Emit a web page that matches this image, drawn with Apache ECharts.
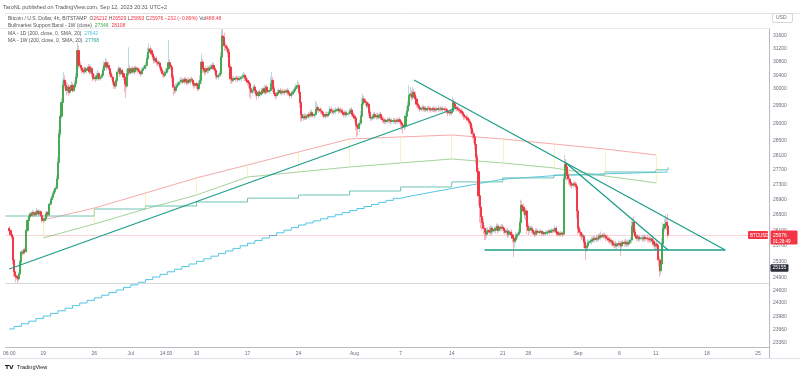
<!DOCTYPE html>
<html><head><meta charset="utf-8">
<script src="https://cdn.jsdelivr.net/npm/echarts@6/dist/echarts.min.js"></script>
<style>html,body{margin:0;padding:0;background:#fff}#c{width:800px;height:375px}</style>
</head><body><div id="c"></div>
<script>
// ---------- DATA ----------
const categoryCount = 629;          // 4h slots, Jun 13 20:00 -> Sep 26 12:00
const firstCandleCat = 3;           // first candle: Jun 14 08:00
const firstOpen = 26150;
const closes = [
26090,25990,25930,25350,
25050,24950,24920,24880,25000,25300,
25550,25520,25600,25560,26100,26350,
26450,26520,26480,26560,26520,26500,
26560,26600,26520,26580,26480,26360,
26350,26400,26520,26560,26500,26780,
26900,26960,27050,27120,27200,27450,
27900,28700,29200,29600,30100,30250,
30100,29950,30050,29900,30000,30100,
29950,30050,30150,30350,31150,30700,
30700,30620,30550,30500,30600,30550,
30550,30650,30500,30600,30450,30300,
30350,30300,30400,30450,30300,30350,
30400,30550,30700,30780,30650,30700,
30600,30450,30350,30200,30100,30080,
30250,30500,30600,30450,30550,30450,
30350,30150,30080,30450,30600,30480,
30550,30600,30500,30620,30580,30600,
30550,30500,30450,30550,30600,30620,
30700,30900,31100,31200,31150,31050,
30950,30850,30900,30800,30750,30770,
30650,30550,30450,30400,30480,30500,
30600,30780,30700,30650,30350,30050,
29950,30050,30100,30150,30200,30250,
30250,30200,30280,30220,30180,30250,
30200,30280,30250,30150,30100,30150,
30100,30000,30150,30250,30800,30600,
30550,30500,30600,30550,30620,30600,
30650,30700,30600,30550,30400,30350,
30400,30450,30950,31600,31550,31300,
31250,31200,31100,30650,30300,30250,
30300,30280,30320,30300,30280,30300,
30300,30350,30380,30400,30320,30250,
30200,30150,30000,29900,29950,30050,
29950,29850,29800,29900,29850,29850,
29950,30000,29900,30050,29950,29920,
29950,30150,30250,30000,29850,29800,
29850,29900,29950,29880,29920,29900,
29920,29900,29950,29880,29850,29800,
29850,29900,29950,30000,30050,30100,
29900,29600,29250,29150,29200,29150,
29200,29180,29250,29220,29300,29250,
29220,29250,29400,29450,29380,29400,
29350,29300,29250,29200,29250,29220,
29250,29300,29400,29350,29320,29350,
29350,29380,29400,29350,29380,29360,
29300,29250,29300,29250,29280,29280,
29350,29380,29250,29200,29150,28950,
28900,28850,29000,29200,29550,29700,
29650,29600,29500,29550,29300,29150,
29150,29200,29250,29180,29220,29170,
29200,29250,29150,29100,29050,29080,
29050,29080,29100,29070,29050,29060,
29080,29050,29070,29060,29100,29050,
29000,28950,28900,28920,29200,29350,
29500,29800,29850,29750,29900,29820,
29700,29550,29500,29450,29400,29420,
29450,29400,29420,29380,29430,29420,
29400,29380,29420,29400,29380,29400,
29420,29400,29410,29420,29400,29410,
29400,29380,29350,29300,29320,29300,
29350,29600,29550,29450,29420,29400,
29380,29350,29300,29250,29200,29180,
29150,29100,29050,29000,28850,28700,
28600,28400,28050,27650,27000,26700,
26450,26300,26150,26050,26000,26080,
26100,26050,26150,26080,26120,26100,
26150,26200,26100,26180,26150,26180,
26150,26100,26050,26080,26000,26050,
26050,25980,25900,25820,25850,25950,
26000,26050,26300,26750,26700,26600,
26500,26600,26200,26100,26150,26150,
26100,26050,26000,26080,26050,26060,
26050,26070,26020,26040,26010,26030,
26040,26060,26080,26050,26100,26080,
26100,26150,26050,26000,26020,26000,
26030,26000,27450,27850,27780,27550,
27450,27350,27300,27280,27320,27300,
27250,26600,26150,26050,25980,25950,
25950,25800,25650,25700,25780,25800,
25820,25850,25880,25860,25900,25870,
25900,25950,25920,25970,25950,25960,
25950,25900,25880,25850,25820,25830,
25780,25720,25750,25700,25730,25760,
25740,25700,25780,25760,25800,25750,
25780,25750,25800,25850,26200,26300,
26050,25950,25900,25920,25880,25900,
25900,25880,25920,25890,25900,25880,
25870,25850,25880,25820,25750,25700,
25750,25700,25350,25080,25250,25750,
26150,26250,26300,26212,25976
];
const upperWicks = [
60,40,50,30,
50,30,40,40,50,60,
60,50,40,60,80,60,
60,50,40,70,40,50,
50,80,40,50,40,30,
50,40,60,50,40,60,
60,50,60,50,80,100,
150,120,100,120,200,250,
150,100,120,80,100,120,
80,60,100,120,250,150,
200,120,80,100,80,60,
60,100,80,60,80,60,
80,60,80,120,60,80,
80,100,120,150,100,80,
100,80,60,80,60,80,
80,100,80,60,100,60,
80,60,80,150,650,100,
80,60,80,60,80,60,
60,80,60,80,60,80,
100,120,150,180,100,80,
100,80,100,80,60,80,
60,80,60,80,60,100,
150,700,100,80,60,80,
80,100,80,60,80,100,
60,80,60,80,60,80,
80,60,80,60,80,60,
60,80,100,150,250,100,
100,80,100,80,60,80,
80,100,80,60,80,60,
60,80,150,200,250,150,
100,80,100,80,100,80,
60,80,60,80,60,80,
80,60,80,100,60,80,
80,60,80,60,100,80,
80,100,80,60,80,60,
80,60,100,80,60,80,
80,200,250,100,80,60,
60,80,60,80,60,80,
60,80,60,80,60,80,
60,80,60,80,100,150,
100,80,60,80,60,80,
80,60,80,60,100,80,
80,60,250,150,80,60,
60,80,60,80,60,80,
80,60,100,80,60,80,
60,80,60,80,60,80,
80,60,80,60,80,60,
80,60,80,60,80,60,
60,80,100,150,200,150,
100,80,60,80,60,80,
60,80,60,80,60,80,
80,60,80,60,80,60,
60,80,60,80,60,80,
60,80,60,80,60,80,
60,80,60,80,100,150,
150,300,200,100,150,100,
100,80,60,80,60,80,
60,80,60,80,60,80,
60,80,60,80,60,80,
60,80,60,80,60,80,
60,80,60,80,60,80,
80,150,100,80,60,80,
80,60,80,60,80,60,
60,80,60,80,60,80,
100,80,100,80,100,100,
150,120,100,80,100,80,
80,100,80,60,80,60,
60,80,60,80,60,80,
80,60,80,60,80,60,
60,80,60,80,60,100,
60,80,100,150,120,100,
100,80,60,80,60,80,
60,80,60,80,60,80,
40,60,40,60,40,60,
60,40,60,40,60,40,
60,80,60,40,60,40,
60,40,150,250,150,100,
100,80,100,80,60,80,
80,100,80,60,80,60,
80,60,80,60,80,60,
60,80,60,80,60,80,
80,60,80,100,60,80,
80,60,80,60,80,60,
60,80,60,80,60,80,
60,80,60,80,60,80,
60,80,60,80,150,130,
150,80,60,80,60,80,
60,80,60,80,60,80,
60,80,60,80,60,80,
60,80,60,80,100,150,
150,150,200,100,317
];
const lowerWicks = [
40,40,60,100,
120,150,60,120,50,40,
50,60,40,50,40,50,
40,50,60,40,50,40,
40,30,50,40,50,60,
80,40,50,40,60,40,
40,50,40,50,40,50,
60,80,100,80,60,80,
100,150,80,120,80,60,
60,50,60,80,60,100,
60,80,100,60,80,60,
80,60,80,60,100,80,
60,100,60,80,60,60,
60,80,60,80,100,60,
60,80,100,80,100,80,
80,60,80,100,60,80,
100,250,350,80,80,60,
60,80,60,80,60,80,
80,60,80,60,80,60,
60,80,60,80,100,80,
80,100,80,100,80,60,
80,60,100,80,60,80,
60,80,100,80,150,250,
100,80,60,80,60,80,
80,60,80,60,80,60,
60,80,60,80,100,80,
100,80,60,80,100,120,
80,100,80,100,80,60,
60,80,60,80,100,80,
80,60,100,150,100,150,
100,80,150,200,150,100,
80,60,80,60,80,60,
60,80,60,80,100,80,
100,120,250,200,100,80,
100,80,120,80,60,80,
60,80,60,80,100,60,
60,80,60,100,80,120,
80,60,80,60,80,60,
60,80,60,80,60,80,
80,60,80,60,80,60,
80,150,200,100,80,60,
60,80,60,80,60,80,
60,80,60,80,60,80,
80,60,80,60,80,60,
60,80,60,80,60,80,
60,80,60,80,60,80,
60,80,60,80,60,80,
60,80,60,80,100,150,
300,200,100,80,100,80,
80,100,80,60,100,80,
80,60,80,60,80,60,
60,80,60,80,60,80,
80,60,80,60,80,60,
80,60,80,60,80,60,
100,150,200,100,80,60,
80,100,80,100,80,100,
80,100,80,60,80,60,
80,60,80,60,80,60,
60,80,60,80,60,80,
60,80,60,80,60,80,
80,60,80,100,80,60,
80,60,80,60,80,60,
60,80,60,80,100,80,
80,60,80,100,150,150,
150,150,200,200,250,400,
300,200,150,200,150,100,
80,60,80,100,80,60,
80,60,80,60,80,60,
60,80,60,80,100,80,
80,100,120,400,150,80,
80,60,80,60,100,80,
100,150,200,120,80,60,
80,60,80,60,80,60,
60,40,60,40,60,40,
40,60,40,60,40,60,
40,60,80,60,40,60,
60,80,40,100,150,150,
150,100,80,100,80,60,
100,200,150,100,80,100,
100,150,300,100,80,60,
60,80,60,80,60,80,
60,80,60,80,60,80,
60,80,60,80,60,80,
80,60,80,60,80,60,
80,250,80,60,80,60,
80,60,80,60,80,100,
80,60,80,60,80,60,
60,80,60,80,60,80,
80,60,80,100,80,100,
100,80,150,150,100,80,
100,80,100,120,83
];
// Bullmarket Support Band (weekly points)
const bandWeekCats = [31,73,115,157,199,241,283,325,367,409,451,493,535];
const bandEma = [26365,26678,27074,27480,27833,28191,28554,28611,28666,28554,28413,28273,28108];
const bandSma = [25903,26263,26652,27021,27505,27641,27777,27887,27997,27887,27751,27533,27346];
// MA 1W (200) weekly steps
const ma1wCats = [0,73,115,157,199,241,283,325,367,409,451,493,535,545];
const ma1wValues = [26469,26652,26731,26836,26940,27022,27128,27237,27372,27480,27560,27641,27700,27768];
// MA 1D (200) daily values, Jun 14 .. Sep 12
const ma1dValues = [23683,23744,23805,23866,23927,23988,24049,24111,24173,24235,
24297,24359,24421,24484,24547,24610,24673,24736,24799,24863,
24927,24991,25055,25119,25184,25248,25313,25378,25443,25508,
25573,25638,25704,25770,25836,25902,25968,26035,26102,26169,
26236,26289,26342,26396,26449,26503,26557,26611,26665,26718,
26772,26826,26880,26935,26980,27017,27052,27088,27124,27159,
27195,27230,27266,27301,27337,27373,27409,27445,27461,27474,
27488,27501,27514,27528,27541,27555,27562,27568,27574,27580,
27585,27591,27597,27603,27608,27614,27620,27626,27631,27637,27642];
// drawn trend lines [cat, price]
const trendLines = [
  [[3,25124],[371,29438]],
  [[336,30261],[592,25598]],
  [[460,27914],[545,25598]],
  [[394,25598],[592,25598]]
];
const lastPrice = 25976;
const markPrice = 25155;
const grayLevel = 24780;
const yTickValues = [23360,23660,23980,24300,24600,24900,25300,25700,26100,26500,26900,27300,27700,28100,28500,29000,29500,30000,30400,30800,31200,31600];
const xTickLabels = [[3,'06:00'],[31,'19'],[73,'26'],[103,'Jul'],[132,'14:00'],[157,'10'],[199,'17'],[241,'24'],[287,'Aug'],[325,'7'],[367,'14'],[409,'21'],[430,'28'],[471,'Sep'],[505,'6'],[535,'11'],[577,'18'],[619,'25']];
const ohlcHeader = {o:'26212', h:'26529', l:'25893', c:'25976', chg:'−232 (−0.89%)', vol:'488.48'};
const bandHeader = ['27346','28108'];
const ma1dHeader = '27642';
const ma1wHeader = '27768';

// ---------- BUILD ----------
const FONT = 'Liberation Sans, Arial, sans-serif';
const UP = '#43a84a', DOWN = '#f23645';
const cats = []; for (let k = 0; k < categoryCount; k++) cats.push('c' + k);
const labelMap = {}; xTickLabels.forEach(([k, t]) => labelMap[k] = t);

const candles = [], bodies = [];
let prev = firstOpen;
closes.forEach((c, i) => {
  const o = prev, k = i + firstCandleCat;
  candles.push([k, o, c, Math.min(o, c) - lowerWicks[i], Math.max(o, c) + upperWicks[i]]);
  bodies.push([k, o, c, Math.min(o, c), Math.max(o, c)]);
  prev = c;
});
const ma1dData = ma1dValues.map((v, d) => [d === 0 ? firstCandleCat : 1 + 6 * d, v]);
ma1dData.push([firstCandleCat + closes.length - 1, ma1dValues[ma1dValues.length - 1]]);

const chart = echarts.init(document.getElementById('c'), null, {renderer: 'canvas', width: 800, height: 375});
const lineS = (name, data, color, width, step, z) => ({
  type: 'line', name, data, step: step || false, showSymbol: false, symbol: 'none', silent: true,
  lineStyle: {color, width}, z: z || 3, animation: false
});
const series = [
  {type: 'candlestick', data: candles, encode: {x: 0, y: [1, 2, 3, 4]}, barWidth: 1.6, z: 4,
   itemStyle: {color: 'rgba(120,175,195,0.5)', color0: 'rgba(240,110,120,0.5)', borderColor: 'rgba(120,175,195,0.5)', borderColor0: 'rgba(240,110,120,0.5)', borderWidth: 1},
   markLine: {silent: true, symbol: 'none', label: {show: false}, animation: false,
     data: [{yAxis: lastPrice, lineStyle: {color: 'rgba(242,54,69,0.22)', type: 'solid', width: 1}},
            {yAxis: grayLevel, lineStyle: {color: '#d4d6dc', type: 'solid', width: 1}}]}},
  {type: 'candlestick', data: bodies, encode: {x: 0, y: [1, 2, 3, 4]}, barWidth: 1.6, z: 5,
   itemStyle: {color: UP, color0: DOWN, borderColor: UP, borderColor0: DOWN, borderWidth: 0.9}},
  Object.assign(lineS('bandEma', bandWeekCats.map((k, j) => [k, bandEma[j]]), 'rgba(245,140,140,0.75)', 1), {
    markLine: {silent: true, symbol: 'none', label: {show: false}, animation: false,
      lineStyle: {color: 'rgba(250,225,140,0.55)', width: 1, type: 'solid'},
      data: bandWeekCats.map((k, j) => [{coord: [k, bandEma[j]]}, {coord: [k, bandSma[j]]}])}
  }),
  lineS('bandSma', bandWeekCats.map((k, j) => [k, bandSma[j]]), 'rgba(140,200,130,0.8)', 1),
  lineS('ma1d', ma1dData, '#52c5e4', 1, 'end'),
  lineS('ma1w', ma1wCats.map((k, j) => [k, ma1wValues[j]]), '#6cc3b4', 1, 'end')
];
trendLines.forEach((t, j) => series.push(lineS('trend' + j, t, '#1e9e8a', 1.3, false, 6)));

chart.setOption({
  animation: false,
  textStyle: {fontFamily: FONT},
  grid: {left: 0, right: 31, top: 29, bottom: 28, containLabel: false},
  xAxis: {type: 'category', data: cats, boundaryGap: false,
    axisLine: {lineStyle: {color: '#b8bbc4', width: 1}}, axisTick: {show: false}, splitLine: {show: false},
    axisLabel: {interval: (idx) => labelMap[idx] !== undefined, formatter: (v, idx) => labelMap[idx] || '',
      color: '#6b6e78', fontSize: 5, margin: 4, fontFamily: FONT}},
  yAxis: {type: 'log', logBase: 10, position: 'right', min: 23267, max: 31819,
    axisLine: {show: true, lineStyle: {color: '#b8bbc4', width: 1}}, axisTick: {show: false}, splitLine: {show: false},
    axisLabel: {customValues: yTickValues, formatter: v => String(Math.round(v)), color: '#6b6e78', fontSize: 5, margin: 4, fontFamily: FONT}},
  series
});

const py = v => chart.convertToPixel({yAxisIndex: 0}, v);
const yLast = py(lastPrice), yMark = py(markPrice);
const T = (x, y, text, fill, size, z) => ({type: 'text', x, y, z: z || 50,
  style: {text, fill, font: (size || 5) + 'px ' + FONT, verticalAlign: 'middle', align: 'left'}});
const rich = {t: {fill: '#555', fontSize: 5, fontFamily: FONT}, r: {fill: DOWN, fontSize: 5, fontFamily: FONT},
  g: {fill: UP, fontSize: 5, fontFamily: FONT}, c: {fill: '#4cc3e0', fontSize: 5, fontFamily: FONT}, q: {fill: '#26a69a', fontSize: 5, fontFamily: FONT}};
const R = (x, y, text) => ({type: 'text', x, y, z: 50, style: {text, rich, font: '5px ' + FONT, verticalAlign: 'middle', align: 'left'}});
const h = ohlcHeader;
chart.setOption({graphic: [
  T(3, 7, 'TaroNL published on TradingView.com, Sep 12, 2023 20:31 UTC+2', '#555', 5.5),
  {type: 'line', z: 40, shape: {x1: 5, y1: 13.5, x2: 800, y2: 13.5}, style: {stroke: '#e0e3eb', lineWidth: 1}},
  {type: 'line', z: 40, shape: {x1: 0, y1: 28.5, x2: 770, y2: 28.5}, style: {stroke: '#e8eaef', lineWidth: 1}},
  R(8, 19, '{t|Bitcoin / U.S. Dollar, 4h, BITSTAMP  O}{r|' + h.o + '}{t| H}{r|' + h.h + '}{t| L}{r|' + h.l + '}{t| C}{r|' + h.c + '}{r| ' + h.chg + '}{t| Vol}{r|' + h.vol + '}'),
  R(8, 26, '{t|Bullmarket Support Band - 1W (close)  }{g|' + bandHeader[0] + '}{r|  ' + bandHeader[1] + '}'),
  R(8, 33.5, '{t|MA - 1D (200, close, 0, SMA, 20)  }{c|' + ma1dHeader + '}'),
  R(8, 40.5, '{t|MA - 1W (200, close, 0, SMA, 20)  }{q|' + ma1wHeader + '}'),
  {type: 'rect', z: 40, shape: {x: 772.5, y: 13.5, width: 20, height: 9, r: 1.5}, style: {fill: '#fff', stroke: '#d6d8de', lineWidth: 1}},
  T(776, 18, 'USD', '#6b6e78', 5, 41),
  {type: 'line', z: 40, shape: {x1: 769.5, y1: 346, x2: 769.5, y2: 359}, style: {stroke: '#b8bbc4', lineWidth: 1}},
  {type: 'line', z: 40, shape: {x1: 0, y1: 358.5, x2: 800, y2: 358.5}, style: {stroke: '#e0e3eb', lineWidth: 1}},
  {type: 'rect', z: 60, shape: {x: 748, y: yLast - 4, width: 20, height: 8, r: 1}, style: {fill: DOWN}},
  T(750, yLast + 0.3, 'BTCUSD', '#fff', 4.5, 70),
  {type: 'rect', z: 60, shape: {x: 770.5, y: yLast - 4.5, width: 27, height: 14, r: 1}, style: {fill: DOWN}},
  T(773, yLast + 0.3, String(lastPrice), '#fff', 5, 70),
  T(773, yLast + 6.3, '01:28:49', '#fff', 4.5, 70),
  {type: 'rect', z: 60, shape: {x: 770.5, y: yMark - 3.5, width: 18, height: 7.5, r: 1}, style: {fill: '#2a2e39'}},
  T(772.5, yMark + 0.3, String(markPrice), '#fff', 5, 70),
  T(5, 367, '𝗧𝗩', '#131722', 6),
  T(17, 367, 'TradingView', '#131722', 5.5)
]});
</script></body></html>
